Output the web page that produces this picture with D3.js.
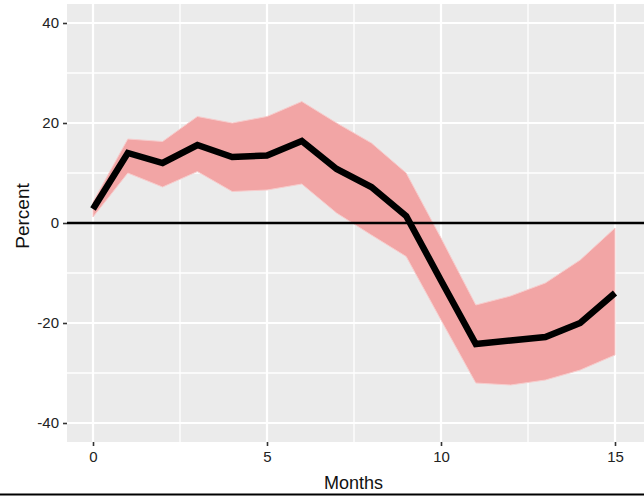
<!DOCTYPE html>
<html>
<head>
<meta charset="utf-8">
<script src="https://cdn.jsdelivr.net/npm/d3@7"></script>
<style>
  body { margin: 0; background: #fff; }
  text { font-family: "Liberation Sans", Arial, sans-serif; }
</style>
</head>
<body>
<svg id="chart" width="644" height="496"></svg>
<script>
var months = [0, 1, 2, 3, 4, 5, 6, 7, 8, 9, 10, 11, 12, 13, 14, 15];
var estimate = [2.8, 14, 12, 15.6, 13.2, 13.5, 16.4, 10.8, 7.2, 1.4, -11.5, -24.2, -23.5, -22.8, -20, -14];
var upper = [4.2, 16.8, 16.3, 21.3, 20, 21.3, 24.3, 20, 16, 10, -3, -16.4, -14.6, -12, -7.4, -1];
var lower = [1.2, 10, 7.2, 10.3, 6.3, 6.6, 7.8, 2, -2.4, -6.7, -19.4, -32, -32.4, -31.4, -29.4, -26.4];

var xTicks = [0, 5, 10, 15];
var xMinor = [2.5, 7.5, 12.5];
var yTicks = [-40, -20, 0, 20, 40];
var yMinor = [-30, -10, 10, 30];

var svg = d3.select("#chart");
var panel = { left: 67, top: 4, right: 644, bottom: 442 };

var x = d3.scaleLinear().domain([0, 15]).range([93, 615]);
var y = d3.scaleLinear().domain([-44, 44]).range([443, 3]);

var data = months.map(function(m, i) {
  return { m: m, est: estimate[i], hi: upper[i], lo: lower[i] };
});

// panel background
svg.append("rect")
  .attr("x", panel.left).attr("y", panel.top)
  .attr("width", panel.right - panel.left)
  .attr("height", panel.bottom - panel.top)
  .attr("fill", "#ebebeb");

var grid = svg.append("g");
grid.selectAll(".hminor").data(yMinor).join("line")
  .attr("x1", panel.left).attr("x2", panel.right)
  .attr("y1", function(d) { return y(d); }).attr("y2", function(d) { return y(d); })
  .attr("stroke", "#fff").attr("stroke-width", 1.3);
grid.selectAll(".vminor").data(xMinor).join("line")
  .attr("y1", panel.top).attr("y2", panel.bottom)
  .attr("x1", function(d) { return x(d); }).attr("x2", function(d) { return x(d); })
  .attr("stroke", "#fff").attr("stroke-width", 1.3);
grid.selectAll(".hmajor").data(yTicks).join("line")
  .attr("x1", panel.left).attr("x2", panel.right)
  .attr("y1", function(d) { return y(d); }).attr("y2", function(d) { return y(d); })
  .attr("stroke", "#fff").attr("stroke-width", 2.2);
grid.selectAll(".vmajor").data(xTicks).join("line")
  .attr("y1", panel.top).attr("y2", panel.bottom)
  .attr("x1", function(d) { return x(d); }).attr("x2", function(d) { return x(d); })
  .attr("stroke", "#fff").attr("stroke-width", 2.2);

// confidence band
svg.append("path")
  .datum(data)
  .attr("fill", "#f2a5a5")
  .attr("stroke", "#f7cccc")
  .attr("stroke-width", 1)
  .attr("d", d3.area()
    .x(function(d) { return x(d.m); })
    .y0(function(d) { return y(d.lo); })
    .y1(function(d) { return y(d.hi); }));

// zero line
svg.append("line")
  .attr("x1", panel.left).attr("x2", panel.right)
  .attr("y1", y(0)).attr("y2", y(0))
  .attr("stroke", "#000").attr("stroke-width", 2.4);

// estimate
svg.append("path")
  .datum(data)
  .attr("fill", "none")
  .attr("stroke", "#000")
  .attr("stroke-width", 6.5)
  .attr("stroke-linejoin", "miter")
  .attr("d", d3.line()
    .x(function(d) { return x(d.m); })
    .y(function(d) { return y(d.est); }));

// axes (ggplot uses a plain hyphen for negatives)
var fmt = function(d) { return String(d); };
var xAxis = svg.append("g")
  .attr("transform", "translate(0," + panel.bottom + ")")
  .call(d3.axisBottom(x).tickValues(xTicks).tickFormat(fmt).tickSize(4).tickPadding(5));
var yAxis = svg.append("g")
  .attr("transform", "translate(" + panel.left + ",0)")
  .call(d3.axisLeft(y).tickValues(yTicks).tickFormat(fmt).tickSize(4).tickPadding(4));

[xAxis, yAxis].forEach(function(a) {
  a.select(".domain").remove();
  a.selectAll(".tick line").attr("stroke", "#333").attr("stroke-width", 1.6);
  a.selectAll(".tick text")
    .attr("fill", "#222")
    .style("font-size", "15px")
    .style("font-family", "'Liberation Sans', Arial, sans-serif");
});

svg.append("text")
  .attr("x", (panel.left + 632) / 2 + 4)
  .attr("y", 489)
  .attr("text-anchor", "middle")
  .style("font-size", "18px")
  .attr("fill", "#111")
  .text("Months");

svg.append("text")
  .attr("transform", "translate(29,216) rotate(-90)")
  .attr("text-anchor", "middle")
  .style("font-size", "19px")
  .attr("fill", "#111")
  .text("Percent");

// bottom border from the source image
svg.append("line")
  .attr("x1", 0).attr("x2", 644)
  .attr("y1", 494.5).attr("y2", 494.5)
  .attr("stroke", "#000").attr("stroke-width", 2);
</script>
</body>
</html>
